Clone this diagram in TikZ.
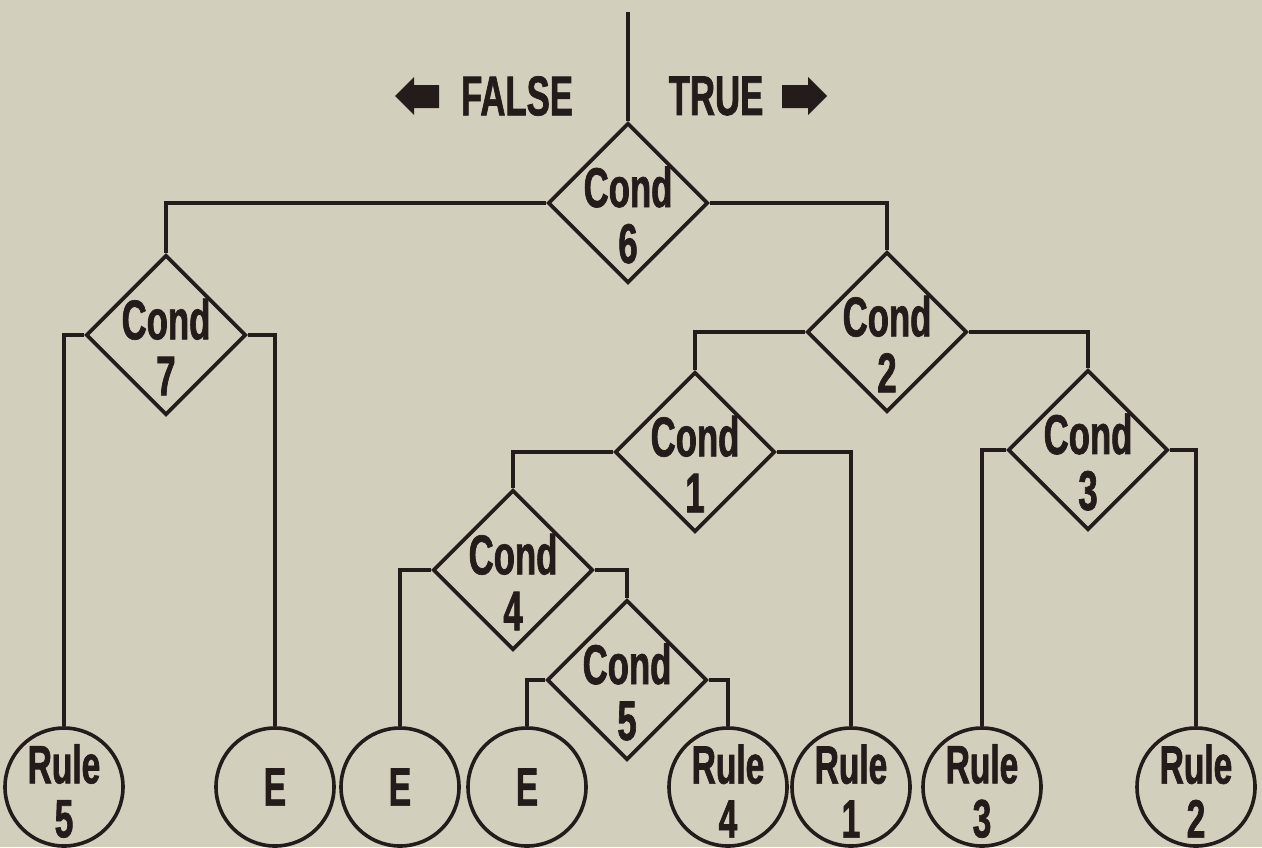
\documentclass[tikz,border=0pt]{standalone}
\usepackage{fontspec}
\newfontfamily\condfont{Liberation Sans}[FakeStretch=0.62, FakeBold=1.2]
\usetikzlibrary{shapes.geometric}
\definecolor{paper}{RGB}{211,207,189}
\definecolor{ink}{RGB}{36,28,26}
\tikzset{
  txt/.style={font=\condfont\bfseries\fontsize{28}{28}\selectfont, text=ink, align=center, inner sep=0pt},
  leaftxt/.style={font=\condfont\bfseries\fontsize{27}{27}\selectfont, text=ink, align=center, inner sep=0pt},
  cond/.style={draw=ink, line width=1.8pt, shape=diamond, minimum width=80pt, minimum height=80pt, inner sep=0pt, aspect=1,
    label={[txt, yshift=-6pt]center:{Cond\\#1}}},
  leaf/.style={draw=ink, line width=1.8pt, shape=circle, minimum size=59pt, inner sep=0pt},
  wire/.style={draw=ink, line width=1.8pt},
  blockarrow/.style={fill=ink}
}
\begin{document}
\begin{tikzpicture}[x=0.5pt, y=-0.5pt]
  \fill[paper] (0,0) rectangle (1262,847);
  \useasboundingbox (0,0) rectangle (1262,847);

  % decisions
  \node[cond=6] (c6) at (628,203) {};
  \node[cond=7] (c7) at (166,335) {};
  \node[cond=2] (c2) at (887,332) {};
  \node[cond=1] (c1) at (695,452) {};
  \node[cond=3] (c3) at (1088,450) {};
  \node[cond=4] (c4) at (513,570) {};
  \node[cond=5] (c5) at (627,680) {};

  % leaves
  \node[leaf] (r5) at (64,787) {};
  \node[leaftxt] at ([yshift=-2pt]r5.center) {Rule\\5};
  \node[leaf] (e1) at (275,787) {};
  \node[leaftxt] at (e1.center) {E};
  \node[leaf] (e2) at (400,787) {};
  \node[leaftxt] at (e2.center) {E};
  \node[leaf] (e3) at (527,787) {};
  \node[leaftxt] at (e3.center) {E};
  \node[leaf] (r4) at (728,787) {};
  \node[leaftxt] at ([yshift=-2pt]r4.center) {Rule\\4};
  \node[leaf] (r1) at (851,787) {};
  \node[leaftxt] at ([yshift=-2pt]r1.center) {Rule\\1};
  \node[leaf] (r3) at (982,787) {};
  \node[leaftxt] at ([yshift=-2pt]r3.center) {Rule\\3};
  \node[leaf] (r2) at (1196,787) {};
  \node[leaftxt] at ([yshift=-2pt]r2.center) {Rule\\2};

  % header
  \coordinate (top) at (628,12);
  \node[txt] (false) at (517,96) {FALSE};
  \node[txt] (true) at (716,96) {TRUE};
  \fill[blockarrow] (395,96) -- (414,77) -- (414,85) -- (439,85) -- (439,108) -- (414,108) -- (414,115) -- cycle;
  \fill[blockarrow] (827,96) -- (808,77) -- (808,85) -- (782,85) -- (782,108) -- (808,108) -- (808,115) -- cycle;

  % connectors
  \draw[wire] (top) -- (c6.north);
  \draw[wire] (c6.west) -| (c7.north);
  \draw[wire] (c6.east) -| (c2.north);
  \draw[wire] (c7.west) -| (r5.north);
  \draw[wire] (c7.east) -| (e1.north);
  \draw[wire] (c2.west) -| (c1.north);
  \draw[wire] (c2.east) -| (c3.north);
  \draw[wire] (c1.west) -| (c4.north);
  \draw[wire] (c1.east) -| (r1.north);
  \draw[wire] (c3.west) -| (r3.north);
  \draw[wire] (c3.east) -| (r2.north);
  \draw[wire] (c4.west) -| (e2.north);
  \draw[wire] (c4.east) -| (c5.north);
  \draw[wire] (c5.west) -| (e3.north);
  \draw[wire] (c5.east) -| (r4.north);
\end{tikzpicture}
\end{document}
